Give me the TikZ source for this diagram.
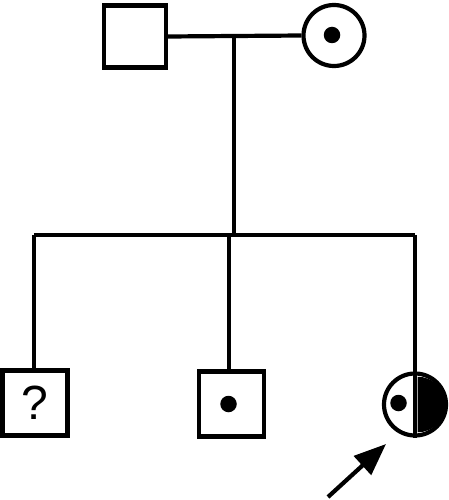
\documentclass[tikz,border=0pt]{standalone}
\usepackage{fontspec}
\setmainfont{Liberation Sans}
\usetikzlibrary{arrows.meta}
\begin{document}
\begin{tikzpicture}[x=1pt,y=-1pt,
  lw/.style={line width=4.2pt},
  male/.style={draw,lw,minimum size=65pt,inner sep=0pt,rectangle,fill=white},
  female/.style={draw,lw,minimum size=62pt,inner sep=0pt,circle,fill=white},
  dotc/.style={fill=black,circle,inner sep=0pt,minimum size=16.5pt}]
\useasboundingbox (0,0) rectangle (448,500);
\node[male,minimum size=62pt] (f) at (135,36.5) {};
\node[female,minimum size=61pt] (m) at (334,35.5) {};
\node[dotc] (md) at (332,35) {};
\coordinate (mid) at (234,36);
\coordinate (sib) at (234,235);
\coordinate (sl) at (34,235);
\coordinate (sm) at (229,235);
\coordinate (sr) at (415,235);
\node[male] (c1) at (35,403) {\fontsize{48}{48}\selectfont ?};
\node[male] (c2) at (231.5,404) {};
\node[dotc] (c2d) at (228.5,404) {};
\node[female] (c3) at (415,404.5) {};
\draw[lw] (f.east) -- (m.west);
\draw[lw] (mid) -- (sib);
\draw[lw] (sl) -- (sr);
\draw[lw] (sl) -- (sl |- c1.north);
\draw[lw] (sm) -- (sm |- c2.north);
\draw[lw] (sr) -- (c3.north);
\fill[black] (417.5,404.5) ++(90:27.8) arc[start angle=90,end angle=-90,radius=27.8] -- cycle;
\draw[lw] (c3.north) -- (c3.south);
\node[dotc] (c3d) at (398.5,403) {};
\coordinate (at) at (328,497);
\coordinate (ah) at (386,444);
\draw[lw,-{Triangle[length=32pt,width=25pt]}] (at) -- (ah);
\end{tikzpicture}
\end{document}
